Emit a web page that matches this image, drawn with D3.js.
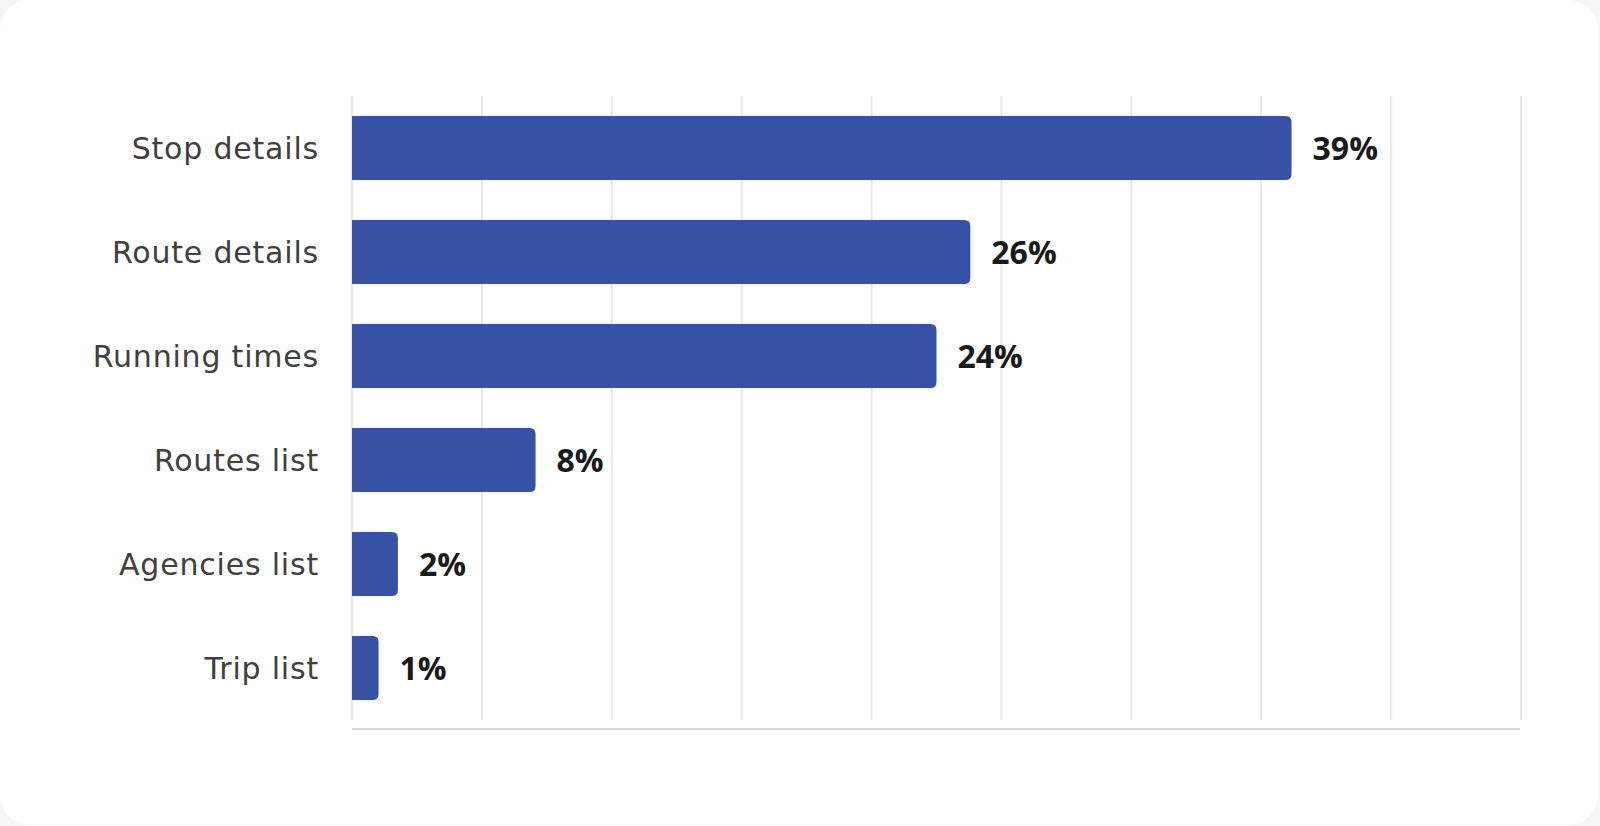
<!DOCTYPE html>
<html>
<head>
<meta charset="utf-8">
<script src="https://cdn.jsdelivr.net/npm/d3@7"></script>
<style>
  html, body { margin: 0; padding: 0; background: #f6f6f7; }
  svg { display: block; }
</style>
</head>
<body>
<script>
// data (labels are the rounded values)
var categories = ['Stop details', 'Route details', 'Running times', 'Routes list', 'Agencies list', 'Trip list'];
var values = [38.9, 25.6, 24.2, 7.6, 1.9, 1.1];
var xMax = 48.4;       // right edge of the grid
var gridCount = 9;     // 9 equal steps -> 10 gridlines

var width = 1600, height = 826;
var margin = {top: 96, right: 79, bottom: 106, left: 352};

var svg = d3.select('body').append('svg')
    .attr('width', width)
    .attr('height', height);

// white card
svg.append('rect')
    .attr('x', 0).attr('y', 0)
    .attr('width', 1598).attr('height', 825)
    .attr('rx', 30)
    .attr('fill', '#ffffff');

var xScale = d3.scaleLinear().domain([0, xMax]).range([margin.left, width - margin.right]);
var yScale = d3.scaleBand().domain(categories)
    .range([margin.top, height - margin.bottom])
    .paddingInner(0.385)
    .paddingOuter(0.1925);

var gridTicks = d3.range(gridCount + 1).map(i => i * xMax / gridCount);

// vertical gridlines
svg.append('g').selectAll('line')
    .data(gridTicks)
    .enter()
    .append('line')
    .attr('x1', d => xScale(d))
    .attr('x2', d => xScale(d))
    .attr('y1', margin.top)
    .attr('y2', height - margin.bottom)
    .attr('stroke', '#e8e8e8')
    .attr('stroke-width', 2);

// bottom axis line
svg.append('line')
    .attr('x1', xScale(0))
    .attr('x2', xScale(xMax) - 1)
    .attr('y1', height - margin.bottom + 9)
    .attr('y2', height - margin.bottom + 9)
    .attr('stroke', '#d8d8d8')
    .attr('stroke-width', 2);

var rows = categories.map((c, i) => ({cat: c, val: values[i]}));

// bars: square on the left, rounded on the right
var r = 6;
svg.append('g').selectAll('path')
    .data(rows)
    .enter()
    .append('path')
    .attr('fill', '#3752a4')
    .attr('d', function(d) {
        var x0 = xScale(0), x1 = xScale(d.val);
        var y0 = yScale(d.cat), h = yScale.bandwidth();
        return 'M' + x0 + ',' + y0 +
               'H' + (x1 - r) +
               'Q' + x1 + ',' + y0 + ' ' + x1 + ',' + (y0 + r) +
               'V' + (y0 + h - r) +
               'Q' + x1 + ',' + (y0 + h) + ' ' + (x1 - r) + ',' + (y0 + h) +
               'H' + x0 + 'Z';
    });

// category labels
svg.append('g').selectAll('text')
    .data(rows)
    .enter()
    .append('text')
    .attr('x', xScale(0) - 33)
    .attr('y', d => yScale(d.cat) + yScale.bandwidth() / 2)
    .attr('dy', '0.36em')
    .attr('text-anchor', 'end')
    .attr('font-family', 'DejaVu Sans, sans-serif')
    .attr('font-size', 30)
    .attr('letter-spacing', 0.8)
    .attr('fill', '#404040')
    .text(d => d.cat);

// value labels
svg.append('g').selectAll('text')
    .data(rows)
    .enter()
    .append('text')
    .attr('x', d => xScale(d.val) + 21)
    .attr('y', d => yScale(d.cat) + yScale.bandwidth() / 2)
    .attr('dy', '0.36em')
    .attr('font-family', 'Open Sans, sans-serif')
    .attr('font-weight', 700)
    .attr('font-size', 32)
    .attr('fill', '#1a1a1a')
    .text(d => Math.round(d.val) + '%');
</script>
</body>
</html>
